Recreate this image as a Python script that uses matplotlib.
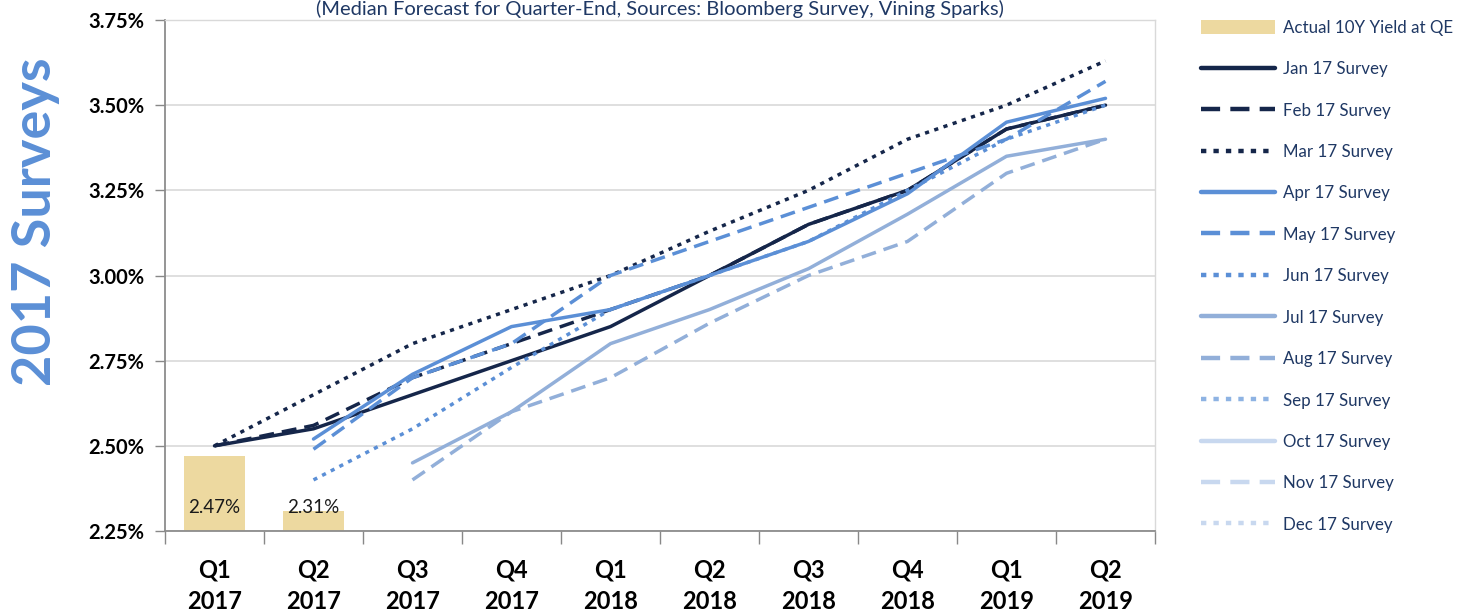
import numpy as np
import matplotlib
matplotlib.use("Agg")
import matplotlib.pyplot as plt
from matplotlib.lines import Line2D
from matplotlib.patches import Patch

plt.rcParams['font.family'] = ['Lato', 'DejaVu Sans']

quarters = ["Q1\n2017", "Q2\n2017", "Q3\n2017", "Q4\n2017", "Q1\n2018",
            "Q2\n2018", "Q3\n2018", "Q4\n2018", "Q1\n2019", "Q2\n2019"]
actual = [2.47, 2.31]
actual_labels = ["2.47%", "2.31%"]

nan = np.nan
jan = [2.50, 2.55, 2.65, 2.75, 2.85, 3.00, 3.15, 3.25, 3.43, 3.50]
feb = [2.50, 2.56, 2.70, 2.80, 2.90, 3.00, 3.15, 3.25, 3.43, 3.50]
mar = [2.50, 2.65, 2.80, 2.90, 3.00, 3.13, 3.25, 3.40, 3.50, 3.63]
apr = [nan, 2.52, 2.71, 2.85, 2.90, 3.00, 3.10, 3.24, 3.45, 3.52]
may = [nan, 2.49, 2.70, 2.80, 3.00, 3.10, 3.20, 3.30, 3.40, 3.57]
jun = [nan, 2.40, 2.55, 2.73, 2.90, 3.00, 3.10, 3.25, 3.40, 3.50]
jul = [nan, nan, 2.45, 2.60, 2.80, 2.90, 3.02, 3.18, 3.35, 3.40]
aug = [nan, nan, 2.40, 2.60, 2.70, 2.86, 3.00, 3.10, 3.30, 3.40]
sep = [nan] * 10
oct_ = [nan] * 10
nov = [nan] * 10
dec = [nan] * 10

series_names = ["Jan 17 Survey", "Feb 17 Survey", "Mar 17 Survey", "Apr 17 Survey",
                "May 17 Survey", "Jun 17 Survey", "Jul 17 Survey", "Aug 17 Survey",
                "Sep 17 Survey", "Oct 17 Survey", "Nov 17 Survey", "Dec 17 Survey"]
series_vals = [jan, feb, mar, apr, may, jun, jul, aug, sep, oct_, nov, dec]

navy = "#15264A"
blue = "#5B8FD6"
lblue = "#92AFD9"
sblue = "#8EB3E3"
pale = "#C8D8EF"
colors = [navy, navy, navy, blue, blue, blue, lblue, lblue, sblue, pale, pale, pale]
solid = '-'
dashed = (0, (4.3, 2.3))
dotted = (0, (1.2, 1.6))
styles = [solid, dashed, dotted] * 4

fig = plt.figure(figsize=(14.64, 6.13), dpi=100)
ax = fig.add_axes([165/1464, 1 - 531/613, 990/1464, 511/613])

x = np.arange(len(quarters))
ax.bar(x[:len(actual)], np.array(actual) - 2.25, bottom=2.25, width=0.62,
       color="#EDD9A0", zorder=2, label="Actual 10Y Yield at QE")
for i, (v, lab) in enumerate(zip(actual, actual_labels)):
    ax.text(x[i], 2.32, lab, ha='center', va='center', fontsize=13.5,
            color="#1a1a1a", zorder=5)

handles = [Patch(facecolor="#EDD9A0", edgecolor="none")]
for name, vals, c, ls in zip(series_names, series_vals, colors, styles):
    ax.plot(x, vals, color=c, linestyle=ls, lw=2.5, zorder=3,
            dash_capstyle='butt', solid_capstyle='round')
    handles.append(Line2D([], [], color=c, linestyle=ls, lw=3.2,
                          dash_capstyle='butt', solid_capstyle='round'))

ax.set_xlim(-0.5, 9.5)
ax.set_ylim(2.25, 3.75)
yt = [2.25, 2.50, 2.75, 3.00, 3.25, 3.50, 3.75]
ax.set_yticks(yt)
ax.set_yticklabels([f"{v:.2f}%" for v in yt], fontsize=14.5, fontweight='bold')
ax.yaxis.grid(True, color="#D9D9D9", lw=1.2, zorder=0)
ax.set_axisbelow(True)

ax.set_xticks(x)
ax.set_xticklabels(quarters, fontsize=17, fontweight='bold', linespacing=1.45)
ax.set_xticks(np.arange(-0.5, 10.0, 1.0), minor=True)
ax.tick_params(axis='x', which='major', length=0, pad=20)
ax.tick_params(axis='x', which='minor', length=9, color="#888888", width=1)
ax.tick_params(axis='y', length=7, color="#888888", width=1, pad=8)

for s in ['left', 'bottom']:
    ax.spines[s].set_color("#8C8C8C")
    ax.spines[s].set_linewidth(1.3)
for s in ['top', 'right']:
    ax.spines[s].set_color("#D9D9D9")
    ax.spines[s].set_linewidth(1.0)

fig.text(36/1464, 1 - 222/613, "2017 Surveys", rotation=90, ha='center', va='center',
         fontsize=39, fontweight='bold', color="#5B8FD6")
fig.text(660/1464, 1.0,
         "(Median Forecast for Quarter-End, Sources: Bloomberg Survey, Vining Sparks)",
         ha='center', va='top', fontsize=14.5, color="#1F3864")

labels = ["Actual 10Y Yield at QE"] + series_names
leg = fig.legend(handles, labels, loc='upper left',
                 bbox_to_anchor=(1194/1464, 1 - 13/613), frameon=False,
                 fontsize=12.2, handlelength=4.4, handleheight=0.9,
                 labelspacing=1.5, handletextpad=0.45, borderaxespad=0)
for t in leg.get_texts():
    t.set_color("#1F3864")

fig.savefig("out.png", dpi=100)
